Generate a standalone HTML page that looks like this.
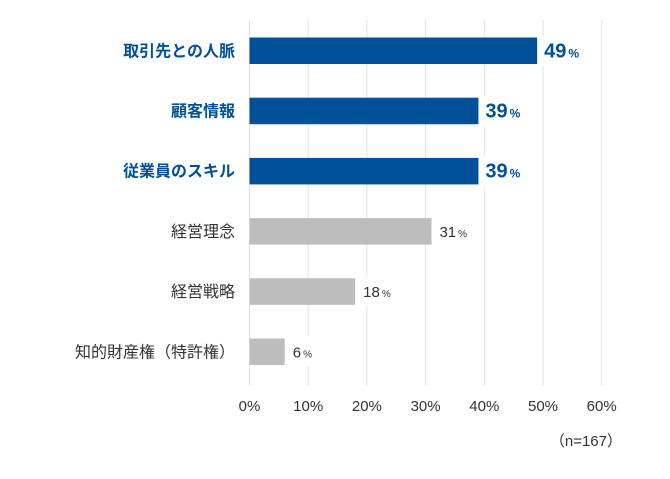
<!DOCTYPE html>
<html><head><meta charset="utf-8"><style>
body{margin:0;background:#fff;width:670px;height:474px;overflow:hidden;font-family:"Liberation Sans","Noto Sans CJK JP",sans-serif}
</style></head><body>
<svg id="c" width="670" height="474" xmlns="http://www.w3.org/2000/svg"></svg>
<script>
const categories=["取引先との人脈","顧客情報","従業員のスキル","経営理念","経営戦略","知的財産権（特許権）"];
const values=[49,39,39,31,18,6];
const highlight=[true,true,true,false,false,false];
const ticks=[0,10,20,30,40,50,60];
const svg=document.getElementById('c');
const NS="http://www.w3.org/2000/svg";
const x0=249.5,pp=5.87,y0=37.5,step=60.2,bh=26.5;
const X=v=>x0+v*pp, Y=i=>y0+i*step;
function mk(t,a,txt){const e=document.createElementNS(NS,t);for(const k in a)e.setAttribute(k,a[k]);if(txt!==undefined)e.textContent=txt;svg.appendChild(e);return e;}
ticks.forEach(t=>{
 const g=mk('line',{x1:X(t),x2:X(t),y1:20,y2:385,stroke:'#e2e2e2','stroke-width':1});
 
 
 const l=mk('text',{x:X(t),y:411,'text-anchor':'middle','font-size':15,fill:'#333'},t+'%');
 
 
});
categories.forEach((c,i)=>{
 const hi=highlight[i],col=hi?'#00509a':'#bdbdbd';
 const r=mk('rect',{x:x0,y:Y(i),width:X(values[i])-x0,height:bh,fill:col});
 
 
 const cy=Y(i)+bh/2+5.5;
 const lb=mk('text',{x:235,y:cy,'text-anchor':'end','font-size':16,fill:hi?'#00509a':'#333','font-weight':hi?'bold':'normal'},c);
 
 
 const vx=X(values[i])+(hi?7:8);
 const bgw=hi?48:36;
 mk('rect',{x:vx-3,y:Y(i)-2,width:bgw,height:bh+4,fill:'#fff'});
 const vt=mk('text',{x:vx,y:cy+(hi?1:0),'font-size':hi?20:15,'font-weight':hi?'bold':'normal',fill:hi?'#00509a':'#333'});
 
 
 const a=document.createElementNS(NS,'tspan');a.textContent=values[i];vt.appendChild(a);
 const b=document.createElementNS(NS,'tspan');b.textContent='%';b.setAttribute('font-size',hi?12:10);b.setAttribute('dx',2);vt.appendChild(b);
});
const n=mk('text',{x:622,y:446,'text-anchor':'end','font-size':15,fill:'#333'},'（n=167）');


</script>
</body></html>
